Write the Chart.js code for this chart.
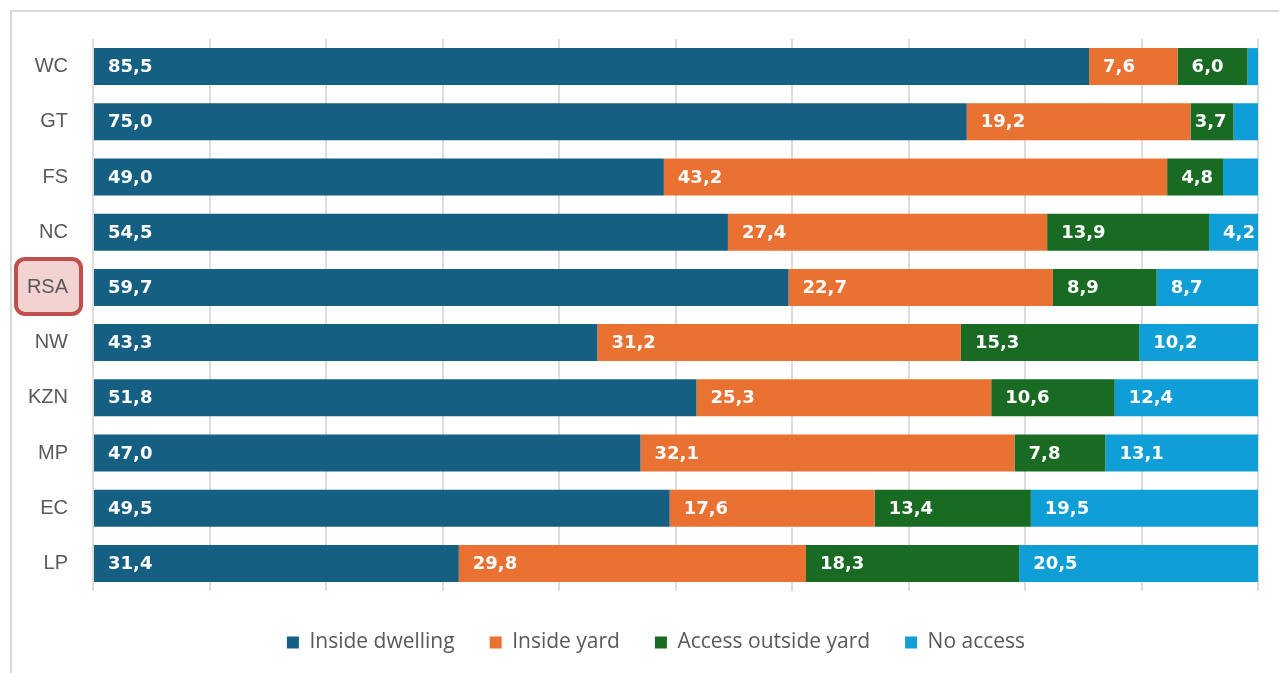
<!DOCTYPE html>
<html>
<head>
<meta charset="utf-8">
<script src="https://cdn.jsdelivr.net/npm/chart.js@4.4.1/dist/chart.umd.min.js"></script>
<style>
  html, body { margin: 0; padding: 0; background: #ffffff; overflow: hidden; }
  #frame { position: absolute; left: 10px; top: 10px; width: 1300px; height: 700px; border: 2px solid #d9d9d9; box-sizing: border-box; }
  #wrap { position: absolute; left: 0; top: 0; width: 1279px; height: 673px; }
</style>
</head>
<body>
<div id="frame"></div>
<div id="wrap"><canvas id="c"></canvas></div>
<script>
const categories = ["WC", "GT", "FS", "NC", "RSA", "NW", "KZN", "MP", "EC", "LP"];
const insideDwelling = [85.5, 75.0, 49.0, 54.5, 59.7, 43.3, 51.8, 47.0, 49.5, 31.4];
const insideYard = [7.6, 19.2, 43.2, 27.4, 22.7, 31.2, 25.3, 32.1, 17.6, 29.8];
const accessOutsideYard = [6.0, 3.7, 4.8, 13.9, 8.9, 15.3, 10.6, 7.8, 13.4, 18.3];
const noAccess = [0.9, 2.1, 3.0, 4.2, 8.7, 10.2, 12.4, 13.1, 19.5, 20.5];
const seriesNames = ["Inside dwelling", "Inside yard", "Access outside yard", "No access"];
const seriesColors = ["#156082", "#E97132", "#196B24", "#0F9ED5"];
const highlightCategory = "RSA";
const labelMinValue = 3.5;

const fmt = v => v.toFixed(1).replace('.', ',');

const labelPlugin = {
  id: 'segLabels',
  afterDatasetsDraw(chart) {
    const ctx = chart.ctx;
    ctx.save();
    ctx.font = 'bold 18px "DejaVu Sans"';
    ctx.fillStyle = '#ffffff';
    ctx.textBaseline = 'middle';
    ctx.textAlign = 'left';
    chart.data.datasets.forEach((ds, di) => {
      const meta = chart.getDatasetMeta(di);
      meta.data.forEach((bar, i) => {
        const v = ds.data[i];
        if (v < labelMinValue) return;
        const t = fmt(v);
        const w = ctx.measureText(t).width;
        const start = Math.min(bar.base, bar.x);
        const end = Math.max(bar.base, bar.x);
        let x = start + 14;
        if (x + w > end) x = Math.max(start + 3, end - w - 7);
        ctx.fillText(t, x, bar.y + 1);
      });
    });
    ctx.restore();
  }
};

const highlightPlugin = {
  id: 'catHighlight',
  beforeDraw(chart) {
    const yScale = chart.scales.y;
    const idx = categories.indexOf(highlightCategory);
    if (idx < 0) return;
    const yc = yScale.getPixelForValue(idx);
    const ctx = chart.ctx;
    const x0 = 16, x1 = 81, h = 55;
    const y0 = yc - h / 2 - 1;
    ctx.save();
    ctx.beginPath();
    ctx.roundRect(x0, y0, x1 - x0, h, 9);
    ctx.fillStyle = '#f3d2d2';
    ctx.fill();
    ctx.lineWidth = 4;
    ctx.strokeStyle = '#c0504d';
    ctx.stroke();
    ctx.restore();
  }
};

const legendShift = {
  id: 'legendShift',
  afterLayout(chart) {
    if (chart.legend) { chart.legend.left += 27; chart.legend.right += 27; }
  }
};

new Chart(document.getElementById('c'), {
  type: 'bar',
  data: {
    labels: categories,
    datasets: [insideDwelling, insideYard, accessOutsideYard, noAccess].map((d, k) => ({
      label: seriesNames[k],
      data: d,
      backgroundColor: seriesColors[k],
      borderWidth: 0,
      categoryPercentage: 1.0,
      barPercentage: 0.67
    }))
  },
  options: {
    indexAxis: 'y',
    responsive: true,
    maintainAspectRatio: false,
    animation: false,
    layout: { padding: { top: 39, right: 21, left: 0, bottom: 10 } },
    scales: {
      x: {
        stacked: true,
        min: 0,
        max: 100,
        ticks: { display: false, stepSize: 10 },
        grid: { color: '#dcdcdc', lineWidth: 2, drawTicks: false },
        border: { display: false },
        afterFit(scale) { scale.height = 6; }
      },
      y: {
        stacked: true,
        grid: { display: false },
        border: { display: false },
        ticks: { color: '#595959', font: { family: '"Liberation Sans", Arial', size: 20 }, padding: 17 },
        afterFit(scale) { scale.width = 93; }
      }
    },
    plugins: {
      legend: {
        position: 'bottom',
        labels: {
          boxWidth: 12,
          boxHeight: 12,
          padding: 35,
          color: '#595959',
          font: { family: '"Open Sans"', size: 21 }
        }
      },
      tooltip: { enabled: false }
    }
  },
  plugins: [labelPlugin, highlightPlugin, legendShift]
});
</script>
</body>
</html>
